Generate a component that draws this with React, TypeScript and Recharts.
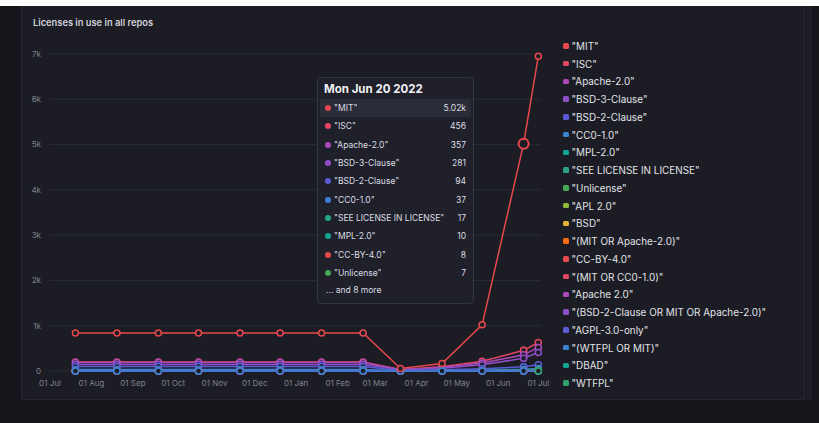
import { CartesianGrid, Legend, Line, LineChart, Tooltip, XAxis, YAxis } from "recharts";

const dates = [
  "2021-07-20", "2021-08-20", "2021-09-20", "2021-10-20", "2021-11-20", "2021-12-20",
  "2022-01-20", "2022-02-20", "2022-03-20", "2022-04-20", "2022-05-20", "2022-06-20", "2022-07-01",
];

const mit = [840, 840, 840, 840, 840, 840, 840, 840, 55, 165, 1020, 5020, 6950];
const isc = [200, 200, 200, 200, 200, 200, 200, 200, 35, 95, 215, 456, 630];
const apache2 = [190, 190, 190, 190, 190, 190, 190, 190, 30, 80, 175, 357, 520];
const bsd3 = [145, 145, 145, 145, 145, 145, 145, 145, 25, 60, 140, 281, 410];
const bsd2 = [100, 100, 100, 100, 100, 100, 100, 100, 10, 25, 50, 94, 140];
const cc0 = [35, 35, 35, 35, 35, 35, 35, 35, 5, 10, 18, 37, 55];
const mpl = [4, 4, 4, 4, 4, 4, 4, 4, 2, 3, 5, 10, 14];
const seeLicense = [6, 6, 6, 6, 6, 6, 6, 6, 2, 4, 8, 17, 25];
const unlicense = [3, 3, 3, 3, 3, 3, 3, 3, 1, 2, 3, 7, 10];
const apl2 = [2, 2, 2, 2, 2, 2, 2, 2, 1, 1, 2, 5, 6];
const bsd = [2, 2, 2, 2, 2, 2, 2, 2, 1, 1, 2, 4, 5];
const mitOrApache = [1, 1, 1, 1, 1, 1, 1, 1, 1, 1, 2, 4, 5];
const ccBy4 = [3, 3, 3, 3, 3, 3, 3, 3, 1, 2, 4, 8, 11];
const mitOrCc0 = [1, 1, 1, 1, 1, 1, 1, 1, 1, 1, 1, 3, 4];
const apacheSpace = [1, 1, 1, 1, 1, 1, 1, 1, 1, 1, 1, 3, 3];
const bsd2OrMit = [1, 1, 1, 1, 1, 1, 1, 1, 1, 1, 1, 2, 3];
const agpl = [1, 1, 1, 1, 1, 1, 1, 1, 1, 1, 1, 1, 2];
const wtfplOrMit = [1, 1, 1, 1, 1, 1, 1, 1, 1, 1, 1, 2, 2];
const dbad = [null, null, null, null, null, null, null, null, null, null, null, null, 1];
const wtfpl = [null, null, null, null, null, null, null, null, null, null, null, null, 1];

const xTicks = [
  "2021-07-01", "2021-08-01", "2021-09-01", "2021-10-01", "2021-11-01", "2021-12-01",
  "2022-01-01", "2022-02-01", "2022-03-01", "2022-04-01", "2022-05-01", "2022-06-01", "2022-07-01",
];
const yTicks = [0, 1000, 2000, 3000, 4000, 5000, 6000, 7000];

const series = [
  { name: '"MIT"', color: "#e5484d", values: mit },
  { name: '"ISC"', color: "#e54666", values: isc },
  { name: '"Apache-2.0"', color: "#ab4aba", values: apache2 },
  { name: '"BSD-3-Clause"', color: "#8e4ec6", values: bsd3 },
  { name: '"BSD-2-Clause"', color: "#5b5bd6", values: bsd2 },
  { name: '"CC0-1.0"', color: "#3b82d0", values: cc0 },
  { name: '"MPL-2.0"', color: "#12a594", values: mpl },
  { name: '"SEE LICENSE IN LICENSE"', color: "#29a383", values: seeLicense },
  { name: '"Unlicense"', color: "#46a758", values: unlicense },
  { name: '"APL 2.0"', color: "#8db83a", values: apl2 },
  { name: '"BSD"', color: "#e5b53a", values: bsd },
  { name: '"(MIT OR Apache-2.0)"', color: "#f76b15", values: mitOrApache },
  { name: '"CC-BY-4.0"', color: "#e5484d", values: ccBy4 },
  { name: '"(MIT OR CC0-1.0)"', color: "#e54666", values: mitOrCc0 },
  { name: '"Apache 2.0"', color: "#ab4aba", values: apacheSpace },
  { name: '"(BSD-2-Clause OR MIT OR Apache-2.0)"', color: "#8e4ec6", values: bsd2OrMit },
  { name: '"AGPL-3.0-only"', color: "#5b5bd6", values: agpl },
  { name: '"(WTFPL OR MIT)"', color: "#3b82d0", values: wtfplOrMit },
  { name: '"DBAD"', color: "#12a594", values: dbad },
  { name: '"WTFPL"', color: "#30a46c", values: wtfpl },
];

const ts = (d: string) => Date.parse(d + "T00:00:00Z");
const MONTHS = ["Jan", "Feb", "Mar", "Apr", "May", "Jun", "Jul", "Aug", "Sep", "Oct", "Nov", "Dec"];
const DAYS = ["Sun", "Mon", "Tue", "Wed", "Thu", "Fri", "Sat"];

const rows = dates.map((d, i) => {
  const row: Record<string, number | null> = { t: ts(d) };
  series.forEach((s, k) => (row["s" + k] = s.values[i]));
  return row;
});

const PANEL = "#1b1c24";
const TICK = "#80838f";

const fmtTick = (v: number) => {
  const d = new Date(v);
  return `${String(d.getUTCDate()).padStart(2, "0")} ${MONTHS[d.getUTCMonth()]}`;
};
const fmtLabel = (v: number) => {
  const d = new Date(v);
  return `${DAYS[d.getUTCDay()]} ${MONTHS[d.getUTCMonth()]} ${String(d.getUTCDate()).padStart(2, "0")} ${d.getUTCFullYear()}`;
};
const fmtVal = (v: number) => (v >= 1000 ? `${(v / 1000).toFixed(2)}k` : String(v));

function Tip({ payload, label }: any) {
  if (!payload || !payload.length) return null;
  const items = payload
    .filter((p: any) => p.value != null)
    .sort((a: any, b: any) => b.value - a.value);
  const shown = items.slice(0, 10);
  return (
    <div
      style={{
        width: 157,
        boxSizing: "border-box",
        background: "#1f2029",
        border: "1px solid #32343f",
        borderRadius: 4,
        padding: "2px 0 5px",
        fontFamily: "Inter, sans-serif",
        color: "#dcdde4",
      }}
    >
      <div style={{ fontSize: 11.5, fontWeight: 700, lineHeight: "18px", paddingLeft: 6, color: "#f0f0f4" }}>
        {fmtLabel(label)}
      </div>
      <div style={{ marginTop: 1 }}>
        {shown.map((p: any, i: number) => (
          <div
            key={p.dataKey}
            style={{
              display: "flex",
              alignItems: "center",
              height: 18.3,
              margin: "0 2px",
              padding: "0 5px 0 5px",
              background: i === 0 ? "#2a2c37" : "transparent",
              borderRadius: 2,
              fontSize: 8.5,
            }}
          >
            <span style={{ width: 6, height: 6, borderRadius: 3, background: p.color, marginRight: 3 }} />
            <span style={{ flex: 1 }}>{p.name}</span>
            <span>{fmtVal(p.value)}</span>
          </div>
        ))}
      </div>
      <div style={{ fontSize: 8.5, lineHeight: "16px", paddingLeft: 8 }}>
        ... and {items.length - shown.length} more
      </div>
    </div>
  );
}

function LegendList() {
  return (
    <div style={{ fontFamily: "Inter, sans-serif" }}>
      {series.map((s) => (
        <div key={s.name} style={{ display: "flex", alignItems: "center", height: 17.75 }}>
          <span style={{ width: 5.5, height: 5.5, borderRadius: 1.5, background: s.color, marginRight: 3 }} />
          <span style={{ fontSize: 9.9, color: "#e2e3e8" }}>{s.name}</span>
        </div>
      ))}
    </div>
  );
}

// MIT drawn last so it sits above the crowded baseline series
const drawOrder = [...series.slice(1).map((s, i) => ({ s, k: i + 1 })), { s: series[0], k: 0 }];

export default function App() {
  return (
    <div style={{ position: "relative", width: 819, height: 423, background: "#15161b", overflow: "hidden" }}>
      <style>{`body{margin:0}`}</style>
      <div style={{ position: "absolute", left: 0, top: 0, width: 819, height: 6, background: "#ffffff" }} />
      <div
        style={{
          position: "absolute",
          left: 21,
          top: 6,
          width: 784,
          height: 394,
          boxSizing: "border-box",
          background: PANEL,
          border: "1px solid #262731",
          borderTop: "none",
        }}
      />
      <div style={{ position: "absolute", left: 806, top: 6, width: 6, height: 394, background: "#1d1e25" }} />
      <div
        style={{
          position: "absolute",
          left: 33,
          top: 17,
          fontFamily: "Inter, sans-serif",
          fontSize: 9.3,
          fontWeight: 600,
          color: "#d2d3da",
        }}
      >
        Licenses in use in all repos
      </div>
      <div style={{ position: "absolute", left: 0, top: 0 }}>
        <LineChart width={819} height={423} data={rows} margin={{ top: 54, right: 278, bottom: 31, left: 30 }}>
          <CartesianGrid vertical={false} stroke="#2a2c35" />
          <XAxis
            dataKey="t"
            type="number"
            scale="time"
            domain={[ts("2021-07-01"), ts("2022-07-03")]}
            ticks={xTicks.map(ts)}
            tickFormatter={fmtTick}
            height={21}
            axisLine={false}
            tickLine={false}
            tickSize={0}
            tickMargin={9}
            tick={{ fill: TICK, fontSize: 8, fontFamily: "Inter, sans-serif" }}
            interval={0}
          />
          <YAxis
            width={20}
            domain={[0, 7000]}
            ticks={yTicks}
            tickFormatter={(v: number) => (v === 0 ? "0" : `${v / 1000}k`)}
            axisLine={false}
            tickLine={false}
            tickSize={0}
            tickMargin={9}
            tick={{ fill: TICK, fontSize: 8, fontFamily: "Inter, sans-serif" }}
            interval={0}
          />
          <Tooltip
            active
            defaultIndex={11}
            position={{ x: 317, y: 77 }}
            cursor={false}
            isAnimationActive={false}
            content={<Tip />}
          />
          <Legend
            layout="horizontal"
            verticalAlign="middle"
            align="center"
            content={<LegendList />}
            wrapperStyle={{ left: 563, top: 37, width: 250 }}
          />
          {drawOrder.map(({ s, k }) => (
            <Line
              key={s.name}
              dataKey={"s" + k}
              name={s.name}
              stroke={s.color}
              strokeWidth={1.5}
              dot={{ r: 3, strokeWidth: 1.5, fill: PANEL, stroke: s.color }}
              activeDot={
                k === 0
                  ? { r: 5, strokeWidth: 2, fill: PANEL, stroke: s.color }
                  : { r: 3, strokeWidth: 1.5, fill: PANEL, stroke: s.color }
              }
              isAnimationActive={false}
            />
          ))}
        </LineChart>
      </div>
    </div>
  );
}
